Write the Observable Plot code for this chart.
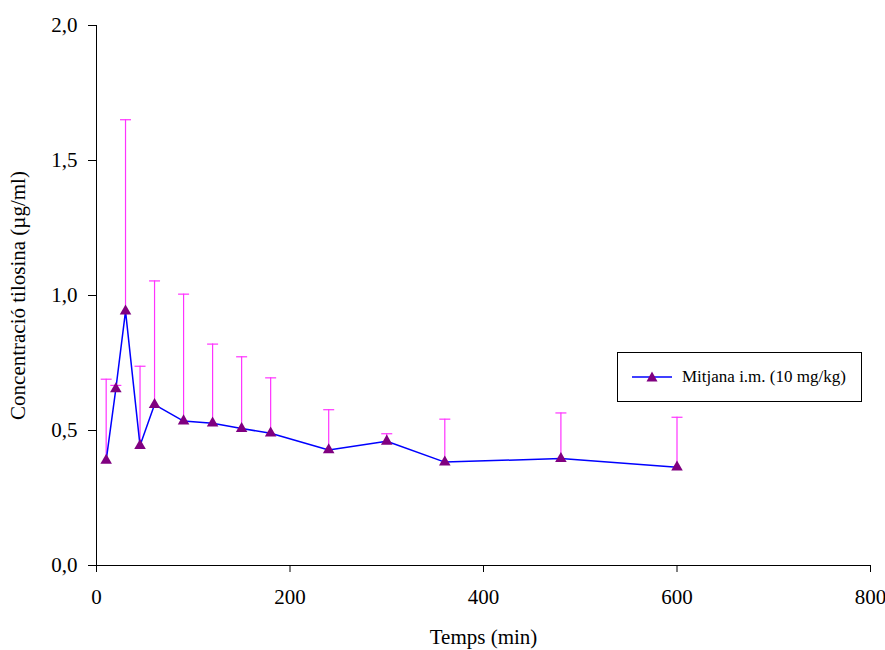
<!DOCTYPE html>
<html>
<head>
<meta charset="utf-8">
<script src="https://cdn.jsdelivr.net/npm/d3@7"></script>
<script src="https://cdn.jsdelivr.net/npm/@observablehq/plot@0.6"></script>
<style>
  html, body { margin: 0; padding: 0; background: #fff; }
  #wrap { position: relative; width: 885px; height: 650px; font-family: "Liberation Serif", "Times New Roman", serif; }
  #legend { position: absolute; left: 617px; top: 352px; width: 245px; height: 50px; border: 1px solid #000; box-sizing: border-box; background: #fff;
            display: flex; align-items: center; font-size: 17px; color: #000; }
  #legend svg { margin-left: 14px; margin-right: 8px; }
</style>
</head>
<body>
<div id="wrap"></div>
<script>
const times = [10, 20, 30, 45, 60, 90, 120, 150, 180, 240, 300, 360, 480, 600];
const means = [0.389, 0.654, 0.942, 0.444, 0.596, 0.535, 0.527, 0.507, 0.490, 0.428, 0.460, 0.383, 0.396, 0.364];
const upper = [0.690, 0.667, 1.651, 0.738, 1.054, 1.005, 0.820, 0.773, 0.695, 0.577, 0.488, 0.542, 0.565, 0.549];
const xTicks = [0, 200, 400, 600, 800];
const yTicks = [0, 0.5, 1.0, 1.5, 2.0];
const seriesName = "Mitjana i.m. (10 mg/kg)";

const data = times.map((t, i) => ({t, m: means[i], u: upper[i]}));

const cap = { draw(context, size) { const r = Math.sqrt(size / Math.PI); context.moveTo(-r, 0); context.lineTo(r, 0); } };

const chart = Plot.plot({
  width: 885,
  height: 650,
  marginLeft: 96,
  marginRight: 15,
  marginTop: 25,
  marginBottom: 85,
  style: { fontFamily: '"Liberation Serif", "Times New Roman", serif', fontSize: "21px", color: "#000", background: "#fff" },
  x: { domain: [0, 800], ticks: xTicks, tickSize: 7, tickPadding: 17, label: "Temps (min)", labelArrow: "none", labelAnchor: "center", labelOffset: 78, line: false },
  y: { domain: [0, 2], ticks: yTicks, tickSize: 8, tickPadding: 11, tickFormat: d => d.toFixed(1).replace(".", ","), label: "Concentració tilosina (µg/ml)", labelArrow: "none", labelAnchor: "center", labelOffset: 86 },
  marks: [
    Plot.ruleX(data, { x: "t", y1: "m", y2: "u", stroke: "#ff33ff", strokeWidth: 1.2 }),
    Plot.dot(data, { x: "t", y: "u", symbol: cap, r: 5.5, stroke: "#ff33ff", strokeWidth: 1.2, fill: "none" }),
    Plot.line(data, { x: "t", y: "m", stroke: "#0000ff", strokeWidth: 1.5 }),
    Plot.dot(data, { x: "t", y: "m", symbol: "triangle", r: 4.3, fill: "#800080", stroke: "none" }),
    Plot.ruleX([0], { stroke: "#000" }),
    Plot.ruleY([0], { stroke: "#000" })
  ]
});

const wrap = document.getElementById("wrap");
wrap.appendChild(chart);

const legend = document.createElement("div");
legend.id = "legend";
legend.innerHTML = '<svg width="42" height="14" viewBox="0 0 42 14"><line x1="0" y1="7" x2="40" y2="7" stroke="#0000ff" stroke-width="1.5"/><path d="M20,1.5 L25.5,11.5 L14.5,11.5 Z" fill="#800080"/></svg><span></span>';
legend.querySelector("span").textContent = seriesName;
wrap.appendChild(legend);
</script>
</body>
</html>
